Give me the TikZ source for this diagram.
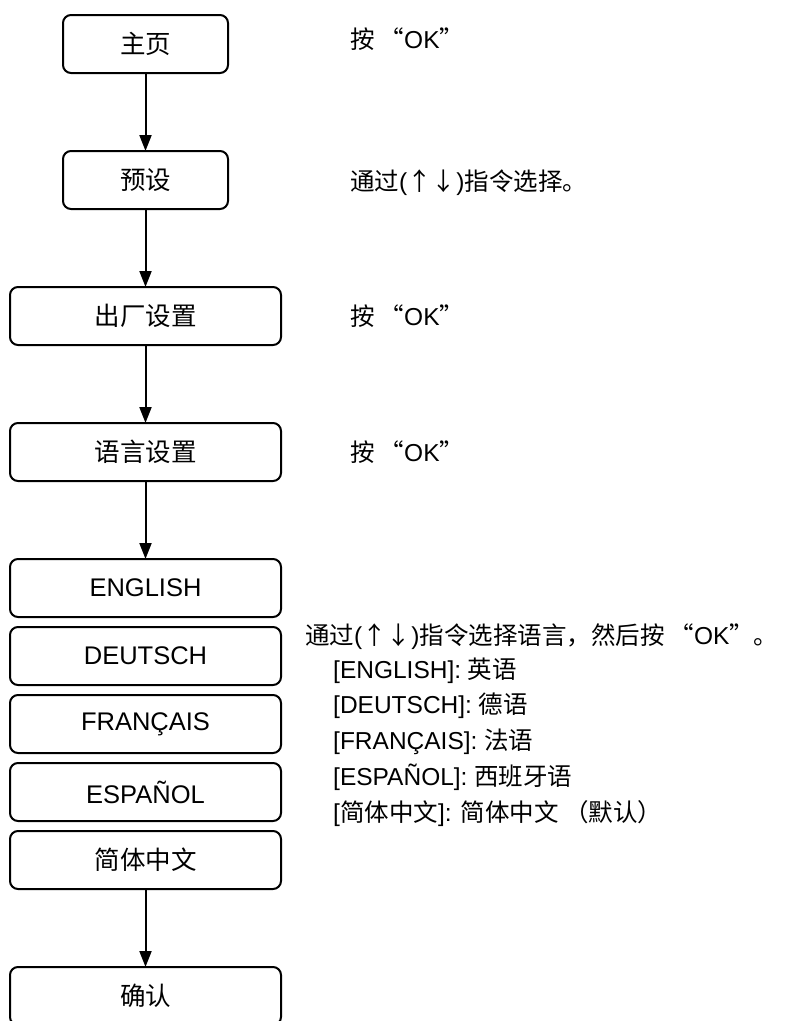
\documentclass[tikz,border=0pt]{standalone}
\usepackage{fontspec}
\setmainfont{Liberation Sans}
\newfontfamily\cjk{Noto Sans CJK SC}
\usetikzlibrary{positioning,arrows.meta}

\tikzset{
  smallbox/.style = {draw, rounded corners=8pt, line width=2pt,
    minimum width=165pt, minimum height=58pt, inner sep=0pt,
    outer sep=0pt, font=\fontsize{25.5}{30}\selectfont},
  bigbox/.style = {smallbox, minimum width=271pt},
  flow/.style = {-{Triangle[length=16pt,width=12pt]}, line width=2pt},
  note/.style = {anchor=base west, inner sep=0pt,
    font=\fontsize{24.5}{30}\selectfont}
}
\newcommand{\pressok}{{\cjk 按}\hspace{5pt}{\cjk “}OK{\cjk ”}}

\begin{document}
\begin{tikzpicture}[x=1pt, y=1pt]
  \clip (0,0) rectangle (801,-1021);
  % left column
  \node[smallbox] (home) at (145.5,-44) {\cjk 主页};
  \node[smallbox, below=78pt of home] (preset) {\cjk 预设};
  \node[bigbox, below=78pt of preset] (factory) {\cjk 出厂设置};
  \node[bigbox, below=78pt of factory] (language) {\cjk 语言设置};
  \node[bigbox, below=78pt of language] (english) {ENGLISH};
  \node[bigbox, below=10pt of english] (deutsch) {DEUTSCH};
  \node[bigbox, below=10pt of deutsch] (francais) {FRANÇAIS};
  \node[bigbox, below=10pt of francais] (espanol) {ESPAÑOL};
  \node[bigbox, below=10pt of espanol] (chinese) {\cjk 简体中文};
  \node[bigbox, below=78pt of chinese] (confirm) {\cjk 确认};

  \draw[flow] (home) -- (preset);
  \draw[flow] (preset) -- (factory);
  \draw[flow] (factory) -- (language);
  \draw[flow] (language) -- (english);
  \draw[flow] (chinese) -- (confirm);

  % right column
  \node[note] (homenote) at (350,-48) {\pressok};
  \node[note] (presetnote) at (350,-190) {{\cjk 通过}({\cjk ↑↓}){\cjk 指令选择。}};
  \node[note] (factorynote) at (350,-325) {\pressok};
  \node[note] (languagenote) at (350,-461) {\pressok};
  \node[note] (choosenote) at (305,-644)
    {{\cjk 通过}({\cjk ↑↓}){\cjk 指令选择语言，然后}\pressok{\cjk 。}};
  \node[note] (englishnote) at (333,-678) {[ENGLISH]: {\cjk 英语}};
  \node[note] (deutschnote) at (333,-713.5) {[DEUTSCH]: {\cjk 德语}};
  \node[note] (francaisnote) at (333,-749) {[FRANÇAIS]: {\cjk 法语}};
  \node[note] (espanolnote) at (333,-785) {[ESPAÑOL]: {\cjk 西班牙语}};
  \node[note] (chinesenote) at (333,-821)
    {[{\cjk 简体中文}]: {\cjk 简体中文 （默认）}};
\end{tikzpicture}
\end{document}
